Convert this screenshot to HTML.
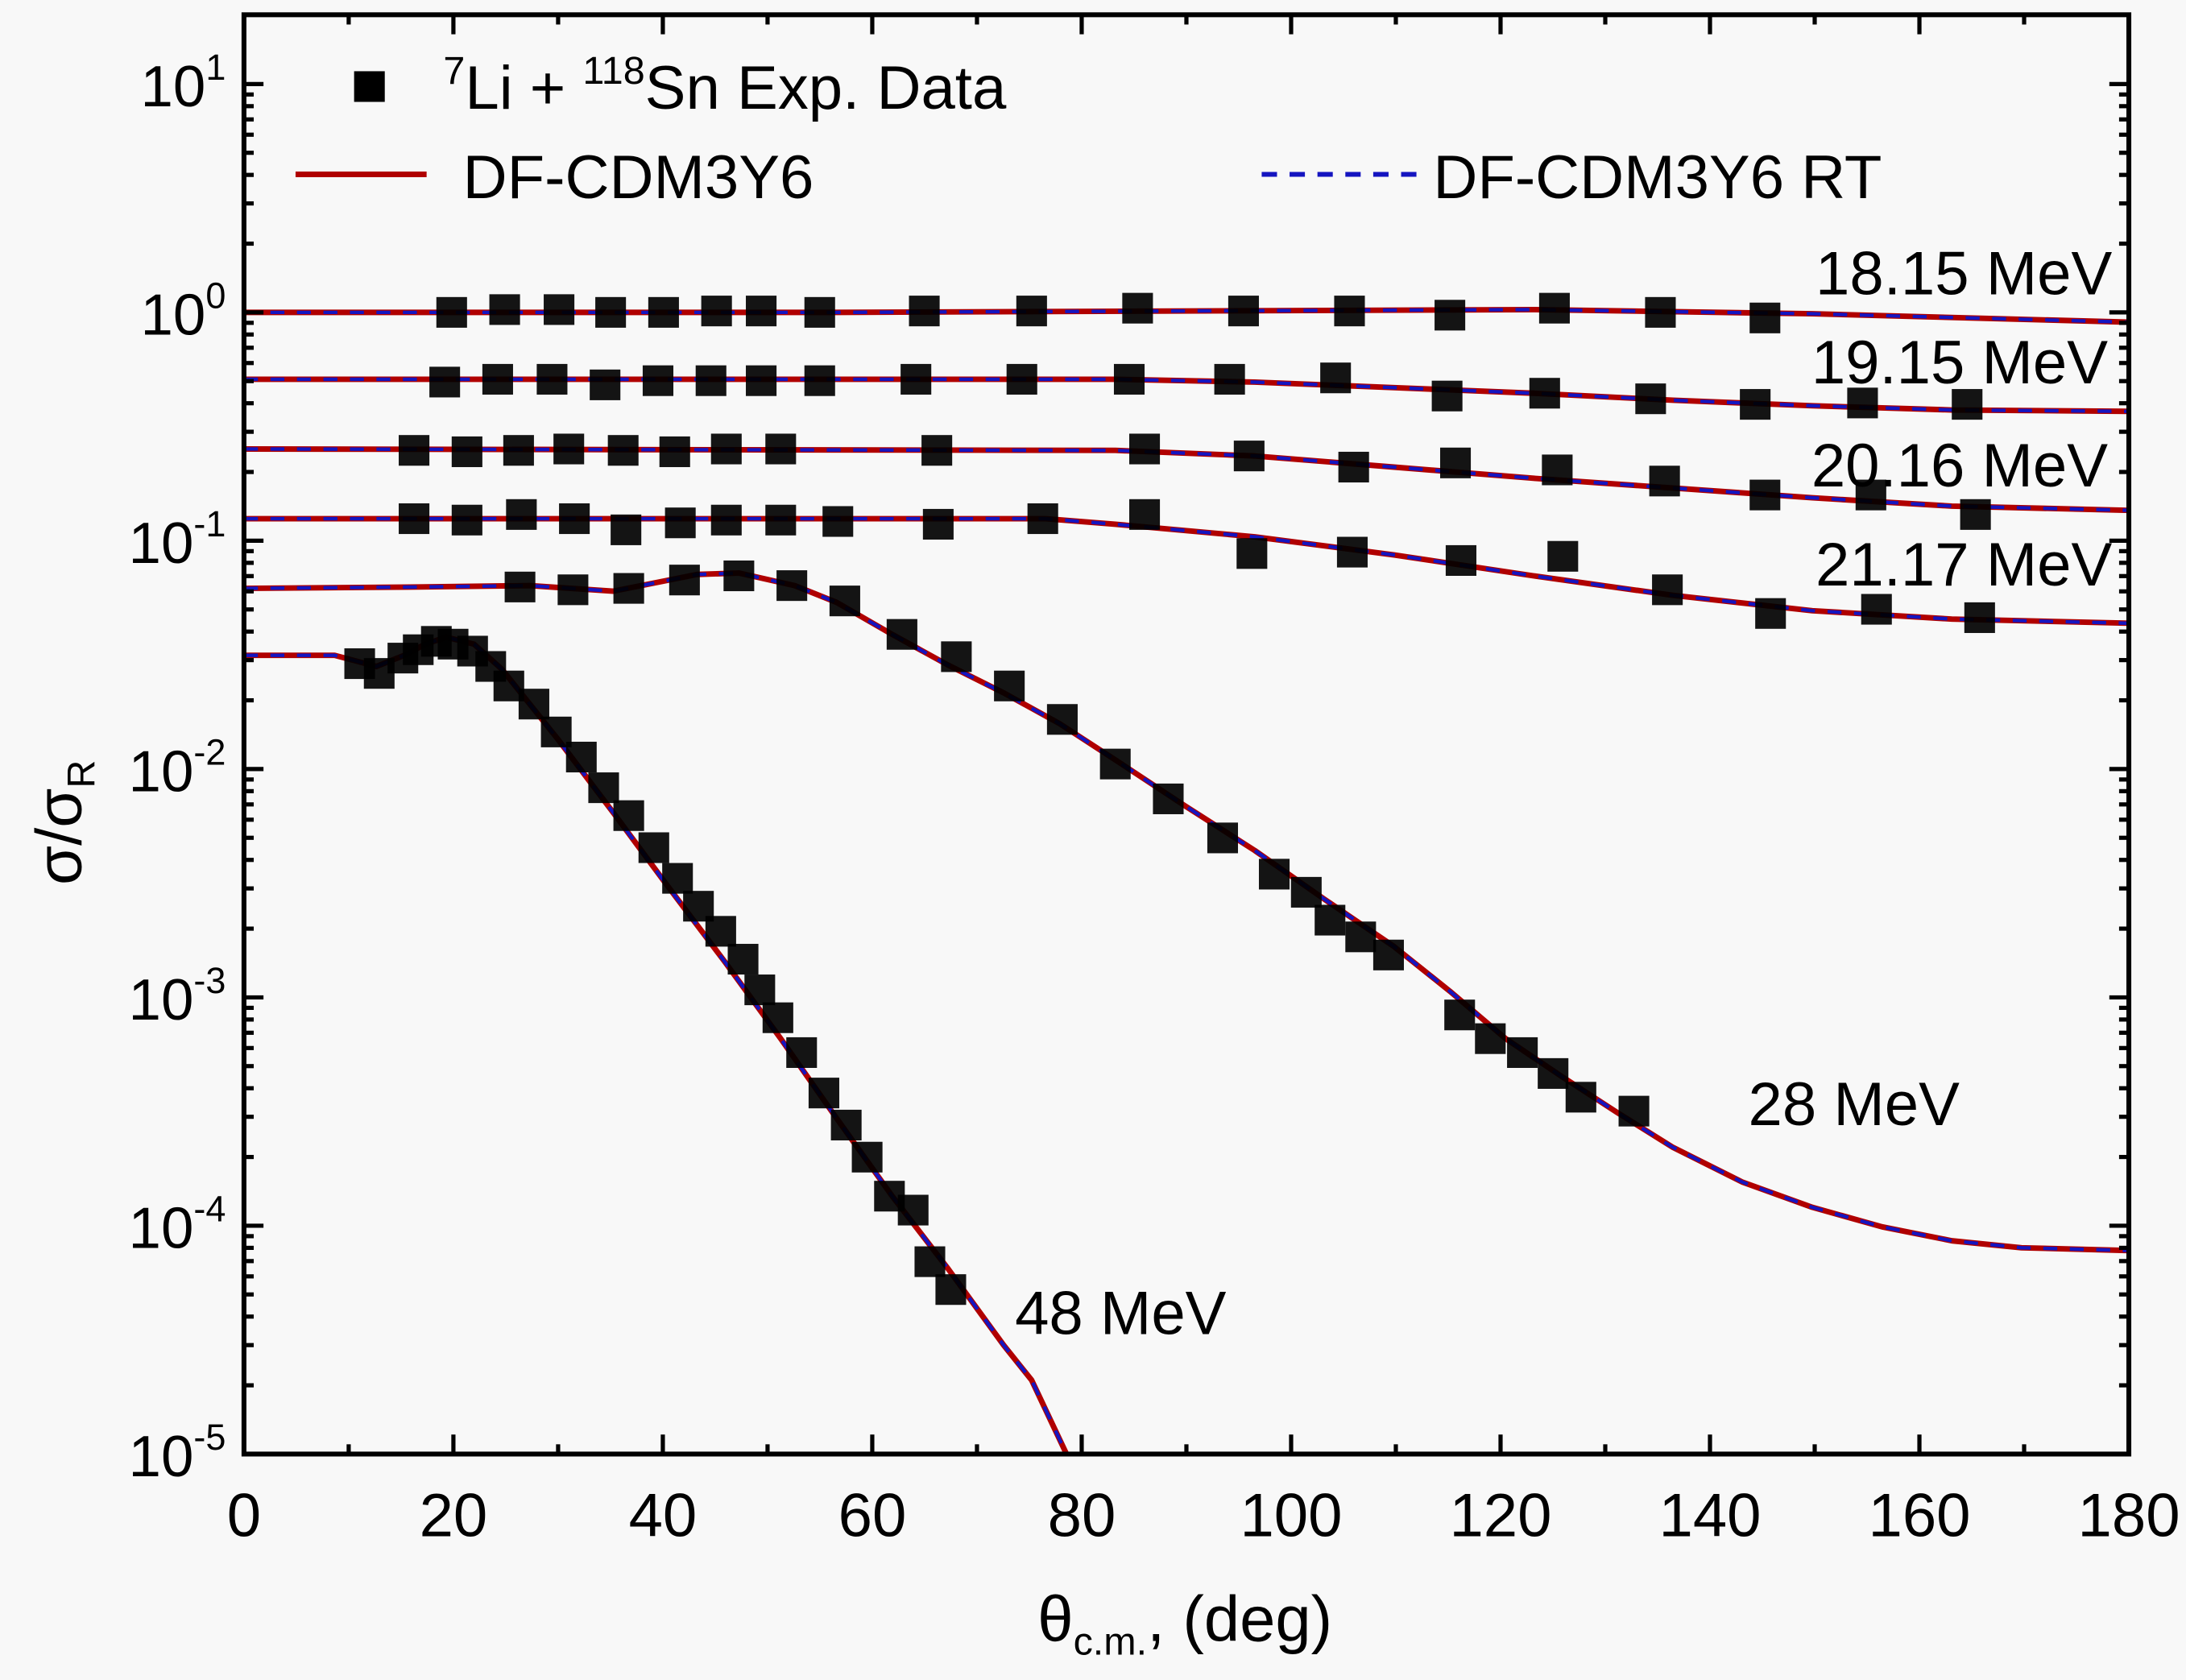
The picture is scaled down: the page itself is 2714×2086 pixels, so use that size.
<!DOCTYPE html>
<html><head><meta charset="utf-8"><style>
html,body{margin:0;padding:0;background:#f8f8f8;}
svg{display:block;}
text{font-family:"Liberation Sans",Arial,sans-serif;fill:#000;}
</style></head><body>
<svg id="s" width="2714" height="2086" viewBox="0 0 1568 1205" xmlns="http://www.w3.org/2000/svg">
<rect x="0" y="0" width="1568" height="1205" fill="#f8f8f8"/>
<g id="curves" fill="none"></g>
<g id="pts" fill="#000"></g>
<rect x="175" y="10.5" width="1352" height="1032.5" fill="none" stroke="#000" stroke-width="3.5"/>
<g id="ticks" stroke="#000" stroke-width="3"></g>
<g id="labels" font-size="44"></g>
<rect x="254" y="51" width="22" height="22" fill="#000"/>
<text x="318" y="78" font-size="44"><tspan font-size="28" dy="-18">7</tspan><tspan dy="18">Li + </tspan><tspan font-size="28" dy="-18">118</tspan><tspan dy="18">Sn Exp. Data</tspan></text>
<line x1="212" y1="125" x2="306" y2="125" stroke="#b00000" stroke-width="4"/>
<text x="332" y="142" font-size="44">DF-CDM3Y6</text>
<line x1="905" y1="125" x2="1020" y2="125" stroke="#1515c0" stroke-width="3.5" stroke-dasharray="11,9"/>
<text x="1028" y="142" font-size="44">DF-CDM3Y6 RT</text>
<g font-size="44" text-anchor="end">
<text x="1515" y="211">18.15 MeV</text>
<text x="1512" y="275">19.15 MeV</text>
<text x="1512" y="349">20.16 MeV</text>
<text x="1515" y="420">21.17 MeV</text>
</g>
<text x="1254" y="807" font-size="44">28 MeV</text>
<text x="728" y="957" font-size="44">48 MeV</text>
<text x="850" y="1177" font-size="46" text-anchor="middle">θ<tspan font-size="28" dy="10">c.m.</tspan><tspan dy="-10">, (deg)</tspan></text>
<text transform="translate(58,590) rotate(-90)" font-size="46" text-anchor="middle">σ/σ<tspan font-size="28" dy="10">R</tspan></text>
</svg>
<script>
const NS="http://www.w3.org/2000/svg";
function el(p,t,a,txt){const e=document.createElementNS(NS,t);for(const k in a)e.setAttribute(k,a[k]);if(txt!==undefined)e.textContent=txt;document.getElementById(p).appendChild(e);return e;}
const L=175,R=1527,T=10.5,B=1043,DEC=163.8,Y0=224;
for(let d=0;d<=180;d+=10){const x=L+d*(R-L)/180;const len=d%20==0?14:7;
 el('ticks','line',{x1:x,y1:B,x2:x,y2:B-len});el('ticks','line',{x1:x,y1:T,x2:x,y2:T+len});
 if(d%20==0){el('labels','text',{x:x,y:1102,'text-anchor':'middle'},String(d));}}
for(let e=-5;e<=1;e++){const y=Y0-e*DEC;
 el('ticks','line',{x1:L,y1:y,x2:L+14,y2:y});el('ticks','line',{x1:R,y1:y,x2:R-14,y2:y});
 const t=el('labels','text',{x:162,y:y+16,'text-anchor':'end','font-size':42});t.innerHTML='10<tspan font-size="26" dy="-19">'+e+'</tspan>';
 for(let m=2;m<=9;m++){const yy=y-Math.log10(m)*DEC;if(yy<T+2)continue;
  el('ticks','line',{x1:L,y1:yy,x2:L+7,y2:yy});el('ticks','line',{x1:R,y1:yy,x2:R-7,y2:yy});}}
const curves=[
[[175,224],[600,224],[1100,222],[1300,225],[1527,231]],
[[175,272],[800,272],[900,274],[1000,278],[1100,282],[1200,287],[1300,291],[1400,294],[1527,295]],
[[175,322],[800,323],[900,327],[1000,335],[1100,343],[1200,350],[1300,357],[1400,363],[1527,366]],
[[175,372],[750,372],[800,376],[900,385],[1000,398],[1100,413],[1200,427],[1300,438],[1400,444],[1527,447]],
[[175,422],[300,421],[380,420],[440,424],[470,418],[500,412],[530,411],[570,420],[600,432],[640,455],[680,477],[720,497],[760,519],[800,545],[850,578],[900,610],[950,645],[1000,679],[1040,711],[1080,745],[1120,772],[1160,798],[1200,823],[1250,848],[1300,866],[1350,880],[1400,890],[1450,895],[1527,897]],
[[175,470],[240,470],[255,474],[270,478],[290,470],[305,462],[320,457],[340,462],[360,480],[380,505],[400,530],[440,583],[480,637],[520,690],[560,745],[600,802],[640,858],[680,910],[720,965],[740,990],[765,1043]]
];
for(const c of curves){const d='M'+c.map(p=>p.join(',')).join(' L');
 el('curves','path',{d:d,stroke:'#b00000','stroke-width':4,'stroke-linejoin':'round'});
 el('curves','path',{d:d,stroke:'#1515c0','stroke-width':2.5,'stroke-dasharray':'10,9'});}
const pts=[
[324,224],[362,222],[401,222],[438,224],[476,224],[514,223],[546,223],[588,224],[663,223],[740,223],[816,221],[892,223],[968,223],[1040,226],[1115,221],[1191,224],[1266,228],
[319,274],[357,272],[396,272],[434,276],[472,273],[510,273],[546,273],[588,273],[657,272],[733,272],[810,272],[882,272],[958,271],[1038,284],[1108,282],[1184,286],[1259,290],[1336,289],[1411,290],
[297,323],[335,324],[372,323],[408,322],[447,323],[484,324],[521,322],[560,322],[672,323],[821,322],[896,327],[971,335],[1044,332],[1117,337],[1194,345],[1266,355],[1342,355],[1417,369],
[297,372],[335,373],[374,369],[412,372],[449,380],[488,375],[521,373],[560,373],[601,374],[673,376],[748,372],[821,369],[898,397],[970,396],[1048,402],[1121,399],[1196,423],[1270,440],[1346,437],[1420,443],
[373,421],[411,423],[451,422],[491,416],[530,413],[568,420],[606,431],[647,455],[686,471],[724,492],[762,516],[800,548],[838,573],[877,601],[914,627],[937,640],[954,660],[976,672],[996,685],[1047,728],[1069,745],[1092,755],[1114,770],[1134,787],[1172,797],
[258,476],[272,483],[289,472],[300,466],[313,460],[325,462],[339,467],[352,478],[365,492],[383,505],[399,525],[417,543],[433,565],[451,585],[469,608],[486,630],[501,650],[517,668],[533,688],[545,710],[558,730],[575,755],[591,784],[607,807],[622,830],[638,858],[655,868],[667,905],[682,925]];
for(const p of pts)el('pts','rect',{x:p[0]-11,y:p[1]-11,width:22,height:22,fill:'#000','fill-opacity':0.92});
</script>
</body></html>
